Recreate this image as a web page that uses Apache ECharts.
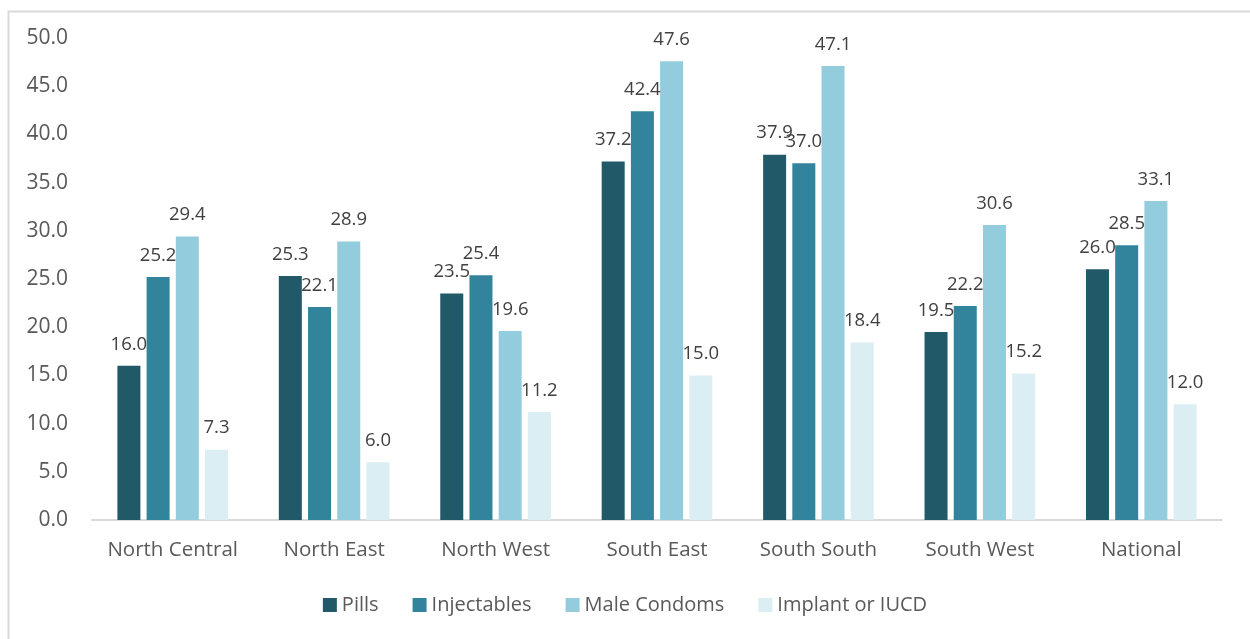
<!DOCTYPE html>
<html>
<head>
<meta charset="utf-8">
<script src="https://cdn.jsdelivr.net/npm/echarts@6/dist/echarts.min.js"></script>
<style>
  html, body { margin: 0; padding: 0; background: #fff; }
  #chart { width: 1250px; height: 639px; }
</style>
</head>
<body>
<div id="chart"></div>
<script>
// Contraceptive method use by zone (%)
const zones = ['North Central', 'North East', 'North West', 'South East', 'South South', 'South West', 'National'];
const pills = [16.0, 25.3, 23.5, 37.2, 37.9, 19.5, 26.0];
const injectables = [25.2, 22.1, 25.4, 42.4, 37.0, 22.2, 28.5];
const maleCondoms = [29.4, 28.9, 19.6, 47.6, 47.1, 30.6, 33.1];
const implantIucd = [7.3, 6.0, 11.2, 15.0, 18.4, 15.2, 12.0];
const yTicks = [0, 5, 10, 15, 20, 25, 30, 35, 40, 45, 50];

const FONT = '"Open Sans", "Noto Sans", sans-serif';
const seriesDefs = [
  { name: 'Pills', data: pills, color: '#215968' },
  { name: 'Injectables', data: injectables, color: '#31849b' },
  { name: 'Male Condoms', data: maleCondoms, color: '#93cddd' },
  { name: 'Implant or IUCD', data: implantIucd, color: '#dbeef4' }
];

const chart = echarts.init(document.getElementById('chart'), null, { renderer: 'canvas' });
chart.setOption({
  backgroundColor: '#ffffff',
  animation: false,
  graphic: [{
    type: 'rect',
    left: 6, top: 9,
    shape: { width: 1300, height: 700 },
    style: { fill: 'none', stroke: '#d9d9d9', lineWidth: 2 },
    silent: true
  }],
  grid: { left: 92, right: 28, top: 38, bottom: 119 },
  legend: {
    top: 590,
    left: 'center',
    itemWidth: 14,
    itemHeight: 14,
    itemGap: 34,
    icon: 'rect',
    textStyle: { fontFamily: FONT, fontSize: 20, color: '#595959' },
    data: seriesDefs.map(s => s.name)
  },
  xAxis: {
    type: 'category',
    data: zones,
    axisLine: { lineStyle: { color: '#d9d9d9', width: 2 } },
    axisTick: { show: false },
    axisLabel: { interval: 0, fontFamily: FONT, fontSize: 20.5, color: '#595959', margin: 20 }
  },
  yAxis: {
    type: 'value',
    min: yTicks[0],
    max: yTicks[yTicks.length - 1],
    interval: 5,
    axisLine: { show: false },
    axisTick: { show: false },
    splitLine: { show: false },
    axisLabel: {
      fontFamily: FONT, fontSize: 21, color: '#595959', margin: 24,
      formatter: v => v.toFixed(1)
    }
  },
  series: seriesDefs.map(s => ({
    name: s.name,
    type: 'bar',
    data: s.data,
    barWidth: 23,
    barGap: '27%',
    itemStyle: { color: s.color },
    label: {
      show: true,
      position: 'top',
      distance: 12,
      fontFamily: FONT,
      fontSize: 18.5,
      color: '#404040',
      formatter: p => p.value.toFixed(1)
    }
  }))
});
</script>
</body>
</html>
